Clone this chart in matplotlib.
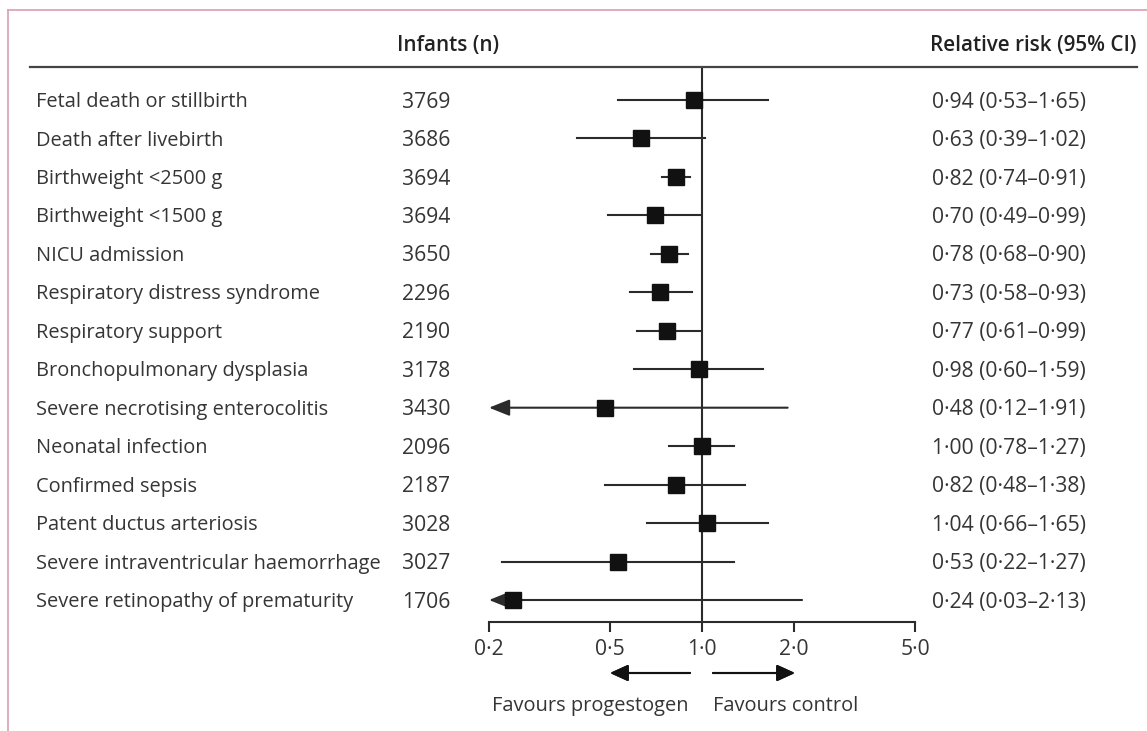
import matplotlib
matplotlib.use("Agg")
import matplotlib.pyplot as plt
from matplotlib.transforms import blended_transform_factory, offset_copy
from matplotlib.lines import Line2D
import matplotlib.ticker as mticker

outcomes = ["Fetal death or stillbirth", "Death after livebirth", "Birthweight <2500 g",
            "Birthweight <1500 g", "NICU admission", "Respiratory distress syndrome",
            "Respiratory support", "Bronchopulmonary dysplasia",
            "Severe necrotising enterocolitis", "Neonatal infection", "Confirmed sepsis",
            "Patent ductus arteriosis", "Severe intraventricular haemorrhage",
            "Severe retinopathy of prematurity"]
infants = [3769, 3686, 3694, 3694, 3650, 2296, 2190, 3178, 3430, 2096, 2187, 3028, 3027, 1706]
rr = [0.94, 0.63, 0.82, 0.70, 0.78, 0.73, 0.77, 0.98, 0.48, 1.00, 0.82, 1.04, 0.53, 0.24]
ci_lo = [0.53, 0.39, 0.74, 0.49, 0.68, 0.58, 0.61, 0.60, 0.12, 0.78, 0.48, 0.66, 0.22, 0.03]
ci_hi = [1.65, 1.02, 0.91, 0.99, 0.90, 0.93, 0.99, 1.59, 1.91, 1.27, 1.38, 1.65, 1.27, 2.13]
xticks = [0.2, 0.5, 1.0, 2.0, 5.0]
xticklabels = ["0·2", "0·5", "1·0", "2·0", "5·0"]

plt.rcParams['font.family'] = ['Open Sans', 'DejaVu Sans']
txt = '#353535'
ink = '#2b2b2b'
fs = 14.4      # words
fs_num = 15.2  # digits look wider in the original
fs_head = 14.9

W, H = 1147, 731
fig = plt.figure(figsize=(W / 100, H / 100), dpi=100)
# axes placed by pixel layout
ax = fig.add_axes([489 / W, 1 - 622 / H, (915 - 489) / W, (622 - 67) / H])
ax.set_xscale('log')
xmin, xmax = 0.2, 5.0
ax.set_xlim(xmin, xmax)
ax.set_ylim(len(rr) - 1 + 0.572, -0.858)

for i in range(len(rr)):
    left = max(ci_lo[i], xmin)
    if ci_lo[i] < xmin:
        ax.annotate('', xy=(xmin, i), xytext=(ci_hi[i], i),
                    arrowprops=dict(arrowstyle='-|>,head_length=1.25,head_width=0.5',
                                    color=ink, lw=1.5, shrinkA=0, shrinkB=0))
    else:
        ax.plot([left, ci_hi[i]], [i, i], color=ink, lw=1.5)
ax.plot(rr, range(len(rr)), 's', color='#111111', ms=11.5, zorder=3)
ax.axvline(1.0, color=ink, lw=1.5, zorder=1)

for s in ['top', 'right', 'left']:
    ax.spines[s].set_visible(False)
ax.spines['bottom'].set_color(ink)
ax.spines['bottom'].set_linewidth(1.5)
ax.set_yticks([])
ax.xaxis.set_minor_locator(mticker.NullLocator())
ax.set_xticks(xticks)
ax.set_xticklabels(xticklabels, fontsize=fs_num, color=txt)
ax.tick_params(axis='x', length=7.5, width=1.5, color=ink, pad=5)
ax.patch.set_visible(False)

# row text: x in figure coords, y on the row, nudged down ~2 px
tr = offset_copy(blended_transform_factory(fig.transFigure, ax.transData), fig=fig, y=-1.5, units='points')
for i in range(len(rr)):
    ax.text(36 / W, i, outcomes[i], transform=tr, ha='left', va='center', fontsize=fs, color=txt)
    ax.text(402 / W, i, str(infants[i]), transform=tr, ha='left', va='center', fontsize=fs_num, color=txt)
    s = f"{rr[i]:.2f} ({ci_lo[i]:.2f}–{ci_hi[i]:.2f})".replace('.', '·')
    ax.text(932 / W, i, s, transform=tr, ha='left', va='center', fontsize=fs_num, color=txt)

fig.text(397 / W, 1 - 45 / H, "Infants (n)", ha='left', va='center', fontsize=fs_head,
         fontweight='semibold', color='#222222')
fig.text(1137 / W, 1 - 45 / H, "Relative risk (95% CI)", ha='right', va='center',
         fontsize=fs_head, fontweight='semibold', color='#222222')
fig.add_artist(Line2D([30 / W, 1137 / W], [1 - 67 / H, 1 - 67 / H], color='#444444', lw=1.6))

# favours arrows
ya = 1 - 673 / H
fig.add_artist(plt.annotate('', xy=(610 / W, ya), xytext=(690 / W, ya), xycoords='figure fraction',
                            arrowprops=dict(arrowstyle='-|>,head_length=1.1,head_width=0.5',
                                            color='#111111', lw=1.5, shrinkA=0, shrinkB=0)))
fig.add_artist(plt.annotate('', xy=(795 / W, ya), xytext=(713 / W, ya), xycoords='figure fraction',
                            arrowprops=dict(arrowstyle='-|>,head_length=1.1,head_width=0.5',
                                            color='#111111', lw=1.5, shrinkA=0, shrinkB=0)))
fig.text(689 / W, 1 - 706 / H, "Favours progestogen", ha='right', va='center', fontsize=fs, color=txt)
fig.text(713 / W, 1 - 706 / H, "Favours control", ha='left', va='center', fontsize=fs, color=txt)

# pink frame
pink = '#dba6b6'
fig.add_artist(Line2D([8 / W, 8 / W], [0, 1 - 10 / H], color=pink, lw=1.3))
fig.add_artist(Line2D([8 / W, 1], [1 - 10 / H, 1 - 10 / H], color=pink, lw=1.3))

fig.savefig('out.png', dpi=100)
